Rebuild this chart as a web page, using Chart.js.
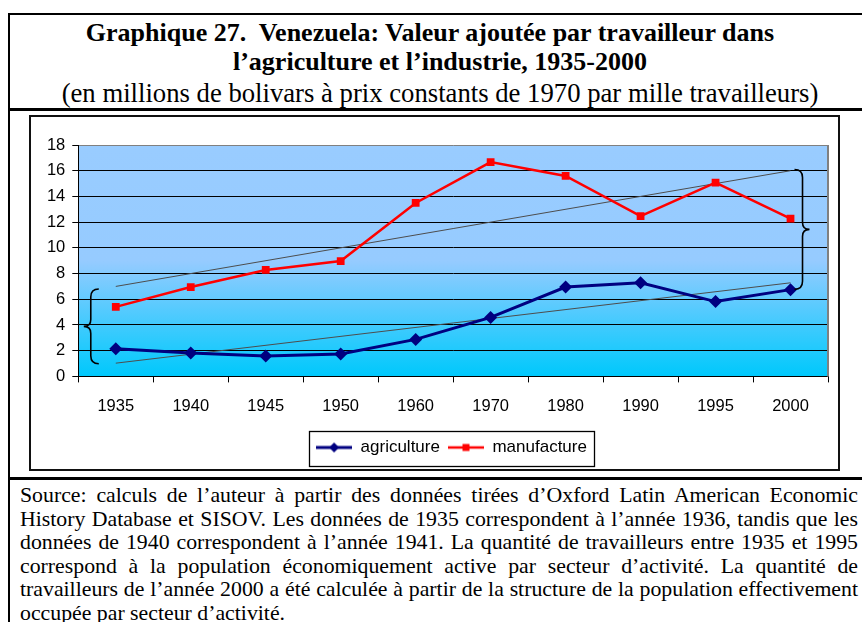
<!DOCTYPE html>
<html>
<head>
<meta charset="utf-8">
<script src="https://cdn.jsdelivr.net/npm/chart.js@4.4.0/dist/chart.umd.min.js"></script>
<style>
    body { margin: 0; width: 862px; height: 622px; overflow: hidden; background: #fff; position: relative;
           font-family: "Liberation Serif", "Times New Roman", serif; color: #000; }
    .rule { position: absolute; background: #000; }
    .title { position: absolute; left: 9px; width: 862px; text-align: center; font-size: 26px;
             line-height: 30px; white-space: nowrap; box-sizing: border-box; }
    #frame { position: absolute; left: 29px; top: 115px; width: 811px; height: 356px;
             border: 2px solid #111; box-sizing: border-box; }
    #graphic { position: absolute; left: 31px; top: 117px; }
    #source { position: absolute; left: 20px; top: 484px; width: 838px; font-size: 21.8px; line-height: 23.6px; }
    #source div { text-align: justify; text-align-last: justify; white-space: nowrap; }
    #source div.last { text-align-last: left; }
</style>
</head>
<body>
<div class="rule" style="left:8px;top:13px;width:2px;height:609px"></div>
<div class="rule" style="left:8px;top:13px;width:854px;height:2px"></div>
<div class="rule" style="left:8px;top:108px;width:854px;height:2.5px"></div>
<div class="rule" style="left:8px;top:477px;width:854px;height:2.5px"></div>

<div class="title" style="top:18px;font-weight:bold;padding-right:20px">Graphique 27.&nbsp; Venezuela: Valeur ajoutée par travailleur dans</div>
<div class="title" style="top:47px;font-weight:bold">l’agriculture et l’industrie, 1935-2000</div>
<div class="title" style="top:78px;font-size:26.7px">(en millions de bolivars à prix constants de 1970 par mille travailleurs)</div>

<div id="frame"></div>
<canvas id="graphic" width="807" height="352"></canvas>

<div id="source">
<div>Source: calculs de l’auteur à partir des données tirées d’Oxford Latin American Economic</div>
<div>History Database et SISOV. Les données de 1935 correspondent à l’année 1936, tandis que les</div>
<div>données de 1940 correspondent à l’année 1941. La quantité de travailleurs entre 1935 et 1995</div>
<div>correspond à la population économiquement active par secteur d’activité. La quantité de</div>
<div>travailleurs de l’année 2000 a été calculée à partir de la structure de la population effectivement</div>
<div class="last">occupée par secteur d’activité.</div>
</div>

<script>
const years = ['1935', '1940', '1945', '1950', '1960', '1970', '1980', '1990', '1995', '2000'];
const agriculture = [2.15, 1.82, 1.59, 1.75, 2.88, 4.59, 6.95, 7.28, 5.82, 6.75];
const manufacture = [5.41, 6.95, 8.28, 8.97, 13.49, 16.67, 15.59, 12.46, 15.08, 12.28];
// trend lines (only the two ends)
const trendAgriculture = [1.03, null, null, null, null, null, null, null, null, 7.28];
const trendManufacture = [7.0, null, null, null, null, null, null, null, null, 16.0];
// curly braces: [low, high] on the y scale
const braceLeft = [0.98, 6.8];
const braceRight = [6.77, 16.1];
const yMin = 0, yMax = 18, yStep = 2;

Chart.defaults.font.family = '"Liberation Sans", Arial, sans-serif';
Chart.defaults.color = '#000';

// small line + marker icons for the legend
function legendIcon(color, style, r, lw) {
    const c = document.createElement('canvas');
    c.width = 36; c.height = 14;
    const g = c.getContext('2d');
    g.strokeStyle = color; g.lineWidth = lw;
    g.beginPath(); g.moveTo(0, 7); g.lineTo(36, 7); g.stroke();
    g.fillStyle = color; g.beginPath();
    if (style === 'diamond') {
        g.moveTo(18, 7 - r); g.lineTo(18 + r, 7); g.lineTo(18, 7 + r); g.lineTo(18 - r, 7);
    } else {
        g.rect(18 - r, 7 - r, 2 * r, 2 * r);
    }
    g.fill();
    return c;
}
const icons = [legendIcon('#000080', 'diamond', 5, 3), legendIcon('#ff0000', 'square', 3.5, 2.5)];

const plotBackground = {
    id: 'plotBackground',
    beforeDraw(chart) {
        const { ctx, chartArea: a } = chart;
        const g = ctx.createLinearGradient(0, a.top, 0, a.bottom);
        g.addColorStop(0, '#99ccff');
        g.addColorStop(0.5, '#96cbff');
        g.addColorStop(0.88, '#22cafd');
        g.addColorStop(1, '#00c8fc');
        ctx.save();
        ctx.fillStyle = g;
        ctx.fillRect(a.left, a.top, a.right - a.left, a.bottom - a.top);
        ctx.restore();
    },
    beforeDatasetsDraw(chart) {
        const { ctx, chartArea: a } = chart;
        ctx.save();
        ctx.strokeStyle = '#808080';
        ctx.lineWidth = 2;
        ctx.beginPath();
        ctx.moveTo(a.right, a.top);
        ctx.lineTo(a.right, a.bottom);
        ctx.stroke();
        ctx.restore();
    }
};

function drawBrace(ctx, x, y1, y2, s) {
    // s = -1: '{' (tip to the left), s = 1: '}' (tip to the right)
    const ym = (y1 + y2) / 2;
    ctx.beginPath();
    ctx.moveTo(x - s * 8, y1);
    ctx.quadraticCurveTo(x, y1, x, y1 + 8);
    ctx.lineTo(x, ym - 7);
    ctx.quadraticCurveTo(x, ym, x + s * 7, ym);
    ctx.quadraticCurveTo(x, ym, x, ym + 7);
    ctx.lineTo(x, y2 - 8);
    ctx.quadraticCurveTo(x, y2, x - s * 8, y2);
    ctx.stroke();
}

const braces = {
    id: 'braces',
    afterDatasetsDraw(chart) {
        const { ctx, scales: { x, y } } = chart;
        ctx.save();
        ctx.strokeStyle = '#000';
        ctx.lineWidth = 1.6;
        drawBrace(ctx, x.getPixelForValue(0) - 25, y.getPixelForValue(braceLeft[1]), y.getPixelForValue(braceLeft[0]), -1);
        drawBrace(ctx, x.getPixelForValue(years.length - 1) + 12, y.getPixelForValue(braceRight[1]), y.getPixelForValue(braceRight[0]), 1);
        ctx.restore();
    }
};

// the legend sits a little right of the centre in the original
const legendBox = {
    id: 'legendBox',
    afterLayout(chart) {
        chart.legend.left += 22;
        chart.legend.right += 22;
    },
    afterDraw(chart) {
        const hb = chart.legend.legendHitBoxes;
        if (!hb || !hb.length) return;
        const l = Math.min(...hb.map(b => b.left)) - 7;
        const r = Math.max(...hb.map(b => b.left + b.width)) + 7;
        const ctx = chart.ctx;
        ctx.save();
        ctx.strokeStyle = '#000';
        ctx.lineWidth = 1.3;
        ctx.strokeRect(Math.round(l) + 0.5, Math.round(chart.legend.top) + 0.5, Math.round(r - l), Math.round(chart.legend.bottom - chart.legend.top));
        ctx.restore();
    }
};

new Chart(document.querySelector('#graphic'), {
    type: 'line',
    data: {
        labels: years,
        datasets: [{
            label: 'agriculture',
            data: agriculture,
            borderColor: '#000080',
            backgroundColor: '#000080',
            borderWidth: 3,
            pointStyle: 'rectRot',
            pointRadius: 6.5,
            pointBorderWidth: 0,
        }, {
            label: 'manufacture',
            data: manufacture,
            borderColor: '#ff0000',
            backgroundColor: '#ff0000',
            borderWidth: 2.5,
            pointStyle: 'rect',
            pointRadius: 5.5,
            pointBorderWidth: 0,
        }, {
            label: 'trend agriculture',
            data: trendAgriculture,
            borderColor: '#4d4d4d',
            borderWidth: 1,
            pointRadius: 0,
            spanGaps: true,
        }, {
            label: 'trend manufacture',
            data: trendManufacture,
            borderColor: '#4d4d4d',
            borderWidth: 1,
            pointRadius: 0,
            spanGaps: true,
        }],
    },
    options: {
        responsive: false,
        animation: false,
        layout: { padding: { top: 28, right: 10, left: 0, bottom: 3 } },
        scales: {
            x: {
                offset: true,
                grid: { offset: true, drawOnChartArea: false, tickLength: 6, color: '#000' },
                border: { color: '#000', width: 1 },
                ticks: { font: { size: 16.5 }, padding: 14, maxRotation: 0, autoSkip: false },
                afterFit(scale) { scale.height = 54.6; }
            },
            y: {
                min: yMin,
                max: yMax,
                grid: {
                    color: ctx => ctx.tick && ctx.tick.value === yMax ? '#808080' : '#000',
                    tickColor: '#000',
                    tickLength: 6,
                },
                border: { color: '#000', width: 1 },
                ticks: { stepSize: yStep, font: { size: 16.5 }, padding: 7 },
                afterFit(scale) { scale.width = 47.3; }
            }
        },
        plugins: {
            legend: {
                position: 'bottom',
                labels: {
                    usePointStyle: true,
                    pointStyleWidth: 36,
                    padding: 8,
                    font: { size: 17 },
                    color: '#000',
                    generateLabels(chart) {
                        const items = Chart.defaults.plugins.legend.labels.generateLabels(chart);
                        items.forEach(it => { it.pointStyle = icons[it.datasetIndex]; });
                        return items.filter(it => it.datasetIndex < 2);
                    }
                }
            },
            tooltip: { enabled: false }
        }
    },
    plugins: [plotBackground, braces, legendBox]
});
</script>
</body>
</html>
